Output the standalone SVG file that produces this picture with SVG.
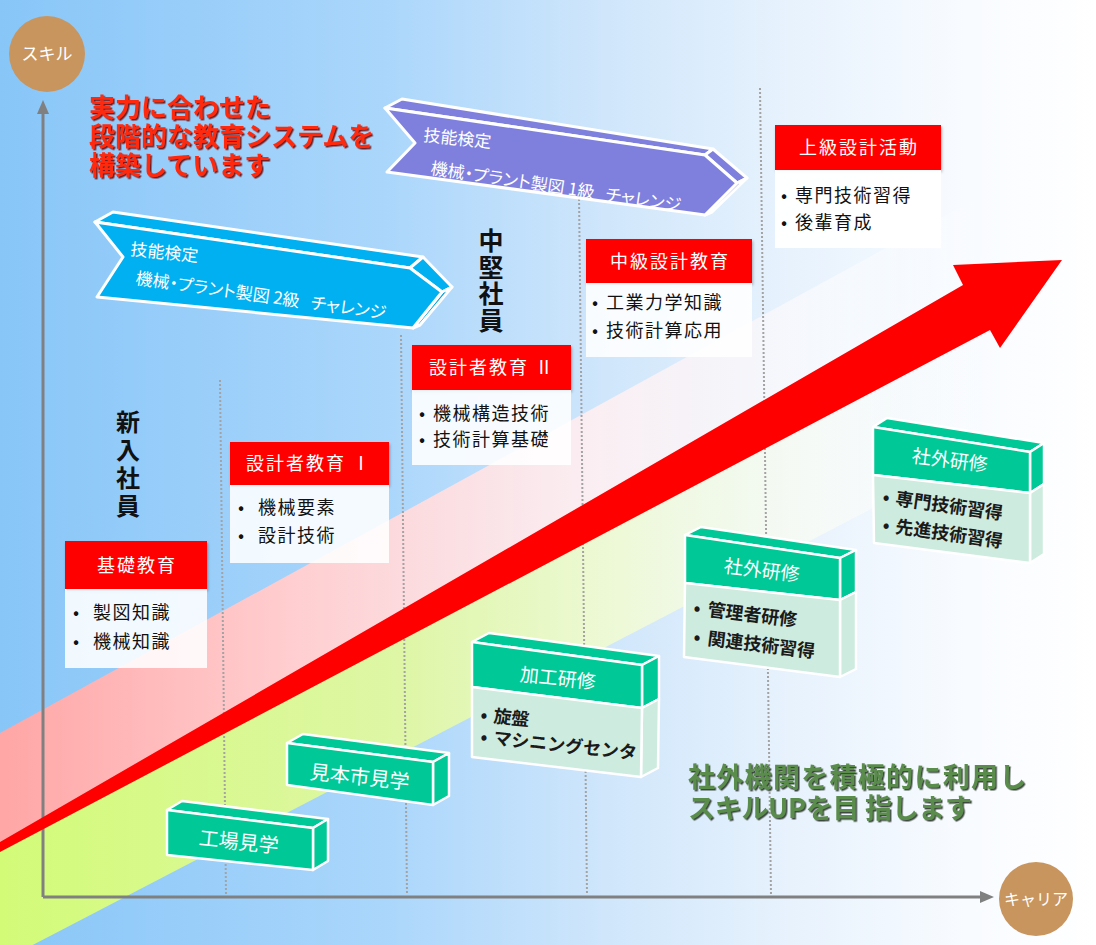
<svg xmlns="http://www.w3.org/2000/svg" width="1096" height="945" viewBox="0 0 1096 945">
<defs>
<linearGradient id="bg" x1="0" y1="0" x2="1" y2="0">
<stop offset="0" stop-color="#88c6f8"/>
<stop offset="0.35" stop-color="#aad6fb"/>
<stop offset="0.55" stop-color="#cfe6fb"/>
<stop offset="0.72" stop-color="#e7f2fd"/>
<stop offset="0.88" stop-color="#f8fbff"/>
<stop offset="1" stop-color="#ffffff"/>
</linearGradient>
<linearGradient id="pinkG" gradientUnits="userSpaceOnUse" x1="0" y1="0" x2="1000" y2="0">
<stop offset="0" stop-color="#ffa6a6"/>
<stop offset="0.3" stop-color="#ffcfd1"/>
<stop offset="0.6" stop-color="#fff0f2" stop-opacity="0.9"/>
<stop offset="0.85" stop-color="#ffffff" stop-opacity="0.5"/>
<stop offset="1" stop-color="#ffffff" stop-opacity="0"/>
</linearGradient>
<linearGradient id="greenG" gradientUnits="userSpaceOnUse" x1="0" y1="0" x2="1000" y2="0">
<stop offset="0" stop-color="#d3fb78"/>
<stop offset="0.4" stop-color="#def6a6"/>
<stop offset="0.62" stop-color="#eef9d8"/>
<stop offset="0.82" stop-color="#fbfdf5" stop-opacity="0.7"/>
<stop offset="1" stop-color="#ffffff" stop-opacity="0"/>
</linearGradient>
<filter id="shadow" x="-10%" y="-20%" width="130%" height="150%">
<feDropShadow dx="1" dy="2" stdDeviation="1.5" flood-color="#000" flood-opacity="0.3"/>
</filter>
<filter id="txtRed" x="-5%" y="-20%" width="115%" height="150%">
<feDropShadow dx="1.5" dy="1.5" stdDeviation="0.6" flood-color="#6a0000" flood-opacity="0.85"/>
</filter>
<filter id="txtGreen" x="-5%" y="-20%" width="115%" height="150%">
<feDropShadow dx="1.5" dy="1.5" stdDeviation="0.6" flood-color="#1e2a1c" flood-opacity="0.85"/>
</filter>
</defs>
<style>
text{font-family:"Noto Sans CJK JP","Noto Sans",sans-serif}
.hdr{fill:#ff0000}
.hdrT{fill:#fff;font-size:18px;letter-spacing:2px;text-anchor:middle}
.body{fill:#fff;fill-opacity:0.88}
.item{fill:#111;font-size:18px;letter-spacing:1.5px}
.dot{stroke:#a3a3a3;stroke-width:2;stroke-dasharray:2 2;fill:none}
.gb{fill:#00c896;stroke:#fff;stroke-width:2.5;stroke-linejoin:round}
.gl{fill:#cdebdf;stroke:#fff;stroke-width:2.5;stroke-linejoin:round}
.gT{fill:#fff;font-size:19px;text-anchor:middle}
.gI{fill:#1a1a1a;font-size:18px;font-weight:bold}
.ban{stroke:#fff;stroke-width:3;stroke-linejoin:round}
.banT{fill:#fff;font-size:17px;font-feature-settings:"palt"}
.circ{fill:#c8955e}
.circT{fill:#fff;font-size:17px;text-anchor:middle}
.vt{fill:#111;font-size:25px;font-weight:bold;writing-mode:vertical-rl}
.axis{stroke:#808080;stroke-width:3;fill:none}
</style>

<g id="background">
<rect width="1096" height="945" fill="url(#bg)"/>
<polygon points="0,733 1096,133 1096,274 0,852" fill="url(#pinkG)"/>
<polygon points="0,848 1096,210 1096,392 0,962" fill="url(#greenG)"/>
</g>

<g id="gridlines">
<line class="dot" x1="220" y1="380" x2="226" y2="895"/>
<line class="dot" x1="401" y1="335" x2="407" y2="895"/>
<line class="dot" x1="579" y1="195" x2="587" y2="895"/>
<line class="dot" x1="760" y1="88" x2="771" y2="895"/>
</g>

<g id="connectors">
<line class="axis" x1="43" y1="897" x2="43" y2="110"/>
<polygon points="43,100 37,114 49,114" fill="#808080"/>
<line class="axis" x1="43" y1="897" x2="984" y2="897"/>
<polygon points="994,897 980,891 980,903" fill="#808080"/>
</g>

<g id="growth-arrow">
<polygon points="0,842 963,285 953,265 1062,260 1000,348 990,330 0,852" fill="#ff0000"/>
</g>

<g id="axis-skill">
<circle class="circ" cx="47" cy="54" r="38"/>
<text class="circT" x="47" y="60">スキル</text>
</g>
<g id="axis-career">
<circle class="circ" cx="1036" cy="899" r="37"/>
<text class="circT" x="1036" y="905" style="font-size:16px">キャリア</text>
</g>

<g id="title">
<text filter="url(#txtRed)" style="fill:#ff2a10;font-size:26px;font-weight:bold">
<tspan x="89" y="117">実力に合わせた</tspan>
<tspan x="89" y="146">段階的な教育システムを</tspan>
<tspan x="89" y="175">構築しています</tspan>
</text>
</g>

<g id="label-shinnyu">
<text class="vt" x="128" y="410" style="font-size:24px;letter-spacing:4px">新入社員</text>
</g>
<g id="label-chuken">
<text class="vt" x="491" y="228" style="letter-spacing:1.5px">中堅社員</text>
</g>

<g id="banner-2kyu">
<polygon class="ban" fill="#00b0f0" points="95,222 113,212 423,257 410,268"/>
<polygon class="ban" fill="#00b0f0" points="410,268 423,257 452,287 442,292"/>
<polygon class="ban" fill="#00a2de" points="442,292 452,287 420,325 413,328"/>
<polygon class="ban" fill="#00b0f0" points="95,222 410,268 442,292 413,328 97,297 123,257"/>
<text class="banT" x="130" y="255" transform="rotate(6 130 255)">技能検定</text>
<text class="banT" x="135" y="284" transform="rotate(8 135 284)">機械・プラント製図&#160;2級&#160;&#160;&#160;チャレンジ</text>
</g>

<g id="banner-1kyu">
<polygon class="ban" fill="#7f80de" points="385,108 402,99 713,149 705,155"/>
<polygon class="ban" fill="#7f80de" points="705,155 713,149 747,178 737,183"/>
<polygon class="ban" fill="#7374d0" points="737,183 747,178 712,212 705,215"/>
<polygon class="ban" fill="#7f80de" points="385,108 705,155 737,183 705,215 387,172 415,143"/>
<text class="banT" x="423" y="141" transform="rotate(6 423 141)">技能検定</text>
<text class="banT" x="430" y="174" transform="rotate(8.5 430 174)">機械・プラント製図&#160;1級&#160;&#160;&#160;チャレンジ</text>
</g>

<g id="kiso">
<rect class="hdr" x="65" y="541" width="142" height="48" filter="url(#shadow)"/>
<text class="hdrT" x="137" y="572">基礎教育</text>
<rect class="body" x="65" y="589" width="142" height="79"/>
<text class="item"><tspan x="73" y="619">•</tspan><tspan x="93" y="619">製図知識</tspan></text>
<text class="item"><tspan x="73" y="648">•</tspan><tspan x="93" y="648">機械知識</tspan></text>
</g>

<g id="sekkei1">
<rect class="hdr" x="230" y="442" width="159" height="43" filter="url(#shadow)"/>
<text class="hdrT" x="309" y="470">設計者教育 Ⅰ</text>
<rect class="body" x="230" y="485" width="159" height="78"/>
<text class="item"><tspan x="238" y="514">•</tspan><tspan x="258" y="514">機械要素</tspan></text>
<text class="item"><tspan x="238" y="542">•</tspan><tspan x="258" y="542">設計技術</tspan></text>
</g>

<g id="sekkei2">
<rect class="hdr" x="412" y="345" width="159" height="45" filter="url(#shadow)"/>
<text class="hdrT" x="492" y="374">設計者教育 Ⅱ</text>
<rect class="body" x="412" y="390" width="159" height="75"/>
<text class="item"><tspan x="419" y="420">•</tspan><tspan x="433" y="420">機械構造技術</tspan></text>
<text class="item"><tspan x="419" y="446">•</tspan><tspan x="433" y="446">技術計算基礎</tspan></text>
</g>

<g id="chukyu">
<rect class="hdr" x="586" y="239" width="166" height="44" filter="url(#shadow)"/>
<text class="hdrT" x="670" y="268">中級設計教育</text>
<rect class="body" x="586" y="283" width="166" height="74"/>
<text class="item"><tspan x="592" y="309">•</tspan><tspan x="606" y="309">工業力学知識</tspan></text>
<text class="item"><tspan x="592" y="337">•</tspan><tspan x="606" y="337">技術計算応用</tspan></text>
</g>

<g id="jokyu">
<rect class="hdr" x="775" y="125" width="166" height="45" filter="url(#shadow)"/>
<text class="hdrT" x="859" y="154">上級設計活動</text>
<rect class="body" x="775" y="170" width="166" height="78" style="fill-opacity:0.95"/>
<text class="item"><tspan x="781" y="202">•</tspan><tspan x="795" y="202">専門技術習得</tspan></text>
<text class="item"><tspan x="781" y="229">•</tspan><tspan x="795" y="229">後輩育成</tspan></text>
</g>

<g id="kojo-kengaku">
<polygon class="gb" points="167,810 182,801 328,819 313,828"/>
<polygon class="gb" points="313,828 328,819 328,861 313,870"/>
<polygon class="gb" points="167,810 313,828 313,870 167,855"/>
<text class="gT" x="238" y="849" transform="rotate(6 238 849)" style="font-size:20px">工場見学</text>
</g>

<g id="mihonichi-kengaku">
<polygon class="gb" points="287,743 303,734 449,753 433,762"/>
<polygon class="gb" points="433,762 449,753 449,796 433,805"/>
<polygon class="gb" points="287,743 433,762 433,805 287,785"/>
<text class="gT" x="359" y="784" transform="rotate(6 359 784)" style="font-size:20px">見本市見学</text>
</g>

<g id="kako-kenshu">
<polygon class="gb" points="472,642 489,633 659,656 642,665"/>
<polygon class="gb" points="642,665 659,656 659,699 642,708"/>
<polygon class="gl" points="642,708 659,699 658,768 641,777"/>
<polygon class="gb" points="472,642 642,665 642,708 472,687"/>
<polygon class="gl" points="472,687 642,708 641,777 472,757"/>
<text class="gT" x="557" y="685" transform="rotate(6 557 685)">加工研修</text>
<text class="gI" transform="rotate(6 480 721)"><tspan x="480" y="721">•</tspan><tspan x="493" y="721">旋盤</tspan></text>
<text class="gI" transform="rotate(6 480 743)"><tspan x="480" y="743">•</tspan><tspan x="493" y="743">マシニングセンタ</tspan></text>
</g>

<g id="shagai-kenshu-1">
<polygon class="gb" points="685,535 701,527 856,550 840,558"/>
<polygon class="gb" points="840,558 856,550 856,592 840,600"/>
<polygon class="gl" points="840,600 856,592 856,669 840,677"/>
<polygon class="gb" points="685,535 840,558 840,600 685,583"/>
<polygon class="gl" points="685,583 840,600 840,677 684,657"/>
<text class="gT" x="761" y="577" transform="rotate(7 761 577)">社外研修</text>
<text class="gI" transform="rotate(7 693 614)"><tspan x="693" y="614">•</tspan><tspan x="707" y="614">管理者研修</tspan></text>
<text class="gI" transform="rotate(7 693 643)"><tspan x="693" y="643">•</tspan><tspan x="707" y="643">関連技術習得</tspan></text>
</g>

<g id="shagai-kenshu-2">
<polygon class="gb" points="873,427 887,418 1044,443 1030,452"/>
<polygon class="gb" points="1030,452 1044,443 1044,484 1030,493"/>
<polygon class="gl" points="1030,493 1044,484 1044,554 1030,563"/>
<polygon class="gb" points="873,427 1030,452 1030,493 873,475"/>
<polygon class="gl" points="873,475 1030,493 1030,563 874,543"/>
<text class="gT" x="949" y="467" transform="rotate(7 949 467)">社外研修</text>
<text class="gI" transform="rotate(8 882 503)"><tspan x="882" y="503">•</tspan><tspan x="895" y="503">専門技術習得</tspan></text>
<text class="gI" transform="rotate(8 882 531)"><tspan x="882" y="531">•</tspan><tspan x="895" y="531">先進技術習得</tspan></text>
</g>

<g id="message">
<text filter="url(#txtGreen)" style="fill:#5a8c4c;font-size:27px;font-weight:bold">
<tspan x="688" y="787" style="letter-spacing:1.3px">社外機関を積極的に利用し</tspan>
<tspan x="688" y="818" style="letter-spacing:-0.3px">スキルUPを目 指します</tspan>
</text>
</g>
</svg>
